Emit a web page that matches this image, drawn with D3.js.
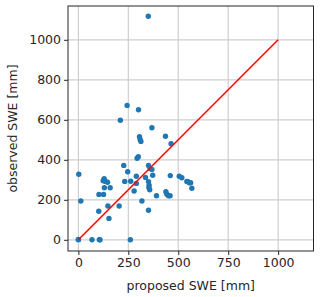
<!DOCTYPE html>
<html>
<head>
<meta charset="utf-8">
<script src="https://cdn.jsdelivr.net/npm/d3@7"></script>
<style>
  body { margin: 0; background: #fff; }
  text { font-family: "DejaVu Sans", sans-serif; fill: #262626; }
</style>
</head>
<body>
<svg id="target"></svg>
<script>
// proposed vs observed SWE [mm]
const proposed = [350, 244, 301, 210, 368, 436, 306, 309, 313, 464,
  300, 294, 227, 351, 359, 368, 247, 2, 129, 124,
  136, 146, 290, 336, 372, 460, 505, 518, 232, 262,
  290, 351, 354, 353, 357, 130, 159, 103, 126, 279,
  391, 438, 443, 451, 459, 543, 548, 555, 562, 568,
  12, 318, 148, 204, 102, 351, 153, 0, 0, 68,
  105, 108, 260];
const observed = [1118, 672, 650, 598, 560, 518, 515, 502, 492, 480,
  415, 408, 372, 372, 357, 352, 340, 328, 305, 295,
  292, 288, 318, 312, 323, 321, 318, 310, 292, 293,
  282, 291, 273, 260, 250, 260, 260, 227, 227, 244,
  220, 240, 228, 220, 220, 292, 290, 285, 285, 258,
  194, 194, 169, 169, 143, 148, 107, 0, 2, 0,
  0, 0, 0];
const xTicks = [0, 250, 500, 750, 1000];
const yTicks = [0, 200, 400, 600, 800, 1000];
const oneToOne = [0, 1000];

const width = 320;
const height = 297;
const margin = {left: 68, right: 6.5, top: 6, bottom: 46};

const svg = d3.select('#target')
  .attr('width', width)
  .attr('height', height);

const x = d3.scaleLinear()
    .domain([-52, 1177])
    .range([margin.left, width - margin.right]);
const y = d3.scaleLinear()
    .domain([-56, 1169])
    .range([height - margin.bottom, margin.top]);

const grid = svg.append('g');
grid.selectAll('.gx')
    .data(xTicks)
  .enter().append('line')
    .attr('x1', d => x(d)).attr('x2', d => x(d))
    .attr('y1', y.range()[0]).attr('y2', y.range()[1])
    .attr('stroke', '#cfcfcf').attr('stroke-width', 1.2);
grid.selectAll('.gy')
    .data(yTicks)
  .enter().append('line')
    .attr('y1', d => y(d)).attr('y2', d => y(d))
    .attr('x1', x.range()[0]).attr('x2', x.range()[1])
    .attr('stroke', '#cfcfcf').attr('stroke-width', 1.2);

const data = d3.zip(proposed, observed);
svg.append('g')
  .selectAll('circle')
  .data(data)
  .enter().append('circle')
    .attr('cx', d => x(d[0]))
    .attr('cy', d => y(d[1]))
    .attr('r', 2.7)
    .attr('fill', '#1f77b4');

svg.append('line')
    .attr('x1', x(oneToOne[0])).attr('y1', y(oneToOne[0]))
    .attr('x2', x(oneToOne[1])).attr('y2', y(oneToOne[1]))
    .attr('stroke', '#ff0000')
    .attr('stroke-width', 1.5);

const fmt = d3.format('d');
const xAxis = svg.append('g')
    .attr('transform', 'translate(0,' + y.range()[0] + ')')
    .call(d3.axisBottom(x).tickValues(xTicks).tickFormat(fmt).tickSize(4).tickPadding(3));
const yAxis = svg.append('g')
    .attr('transform', 'translate(' + x.range()[0] + ',0)')
    .call(d3.axisLeft(y).tickValues(yTicks).tickFormat(fmt).tickSize(4).tickPadding(3));
[xAxis, yAxis].forEach(a => {
  a.select('.domain').remove();
  a.selectAll('text').attr('font-size', 12.5).attr('font-family', '"DejaVu Sans", sans-serif').attr('fill', '#262626');
  a.selectAll('line').attr('stroke', '#262626');
});

svg.append('rect')
    .attr('x', x.range()[0]).attr('y', y.range()[1])
    .attr('width', x.range()[1] - x.range()[0])
    .attr('height', y.range()[0] - y.range()[1])
    .attr('fill', 'none')
    .attr('stroke', '#262626')
    .attr('stroke-width', 1);

svg.append('text')
    .attr('x', (x.range()[0] + x.range()[1]) / 2)
    .attr('y', 290)
    .attr('text-anchor', 'middle')
    .attr('font-size', 12.5)
    .text('proposed SWE [mm]');

svg.append('text')
    .attr('transform', 'translate(17,' + ((y.range()[0] + y.range()[1]) / 2) + ') rotate(-90)')
    .attr('text-anchor', 'middle')
    .attr('font-size', 12.5)
    .text('observed SWE [mm]');
</script>
</body>
</html>
